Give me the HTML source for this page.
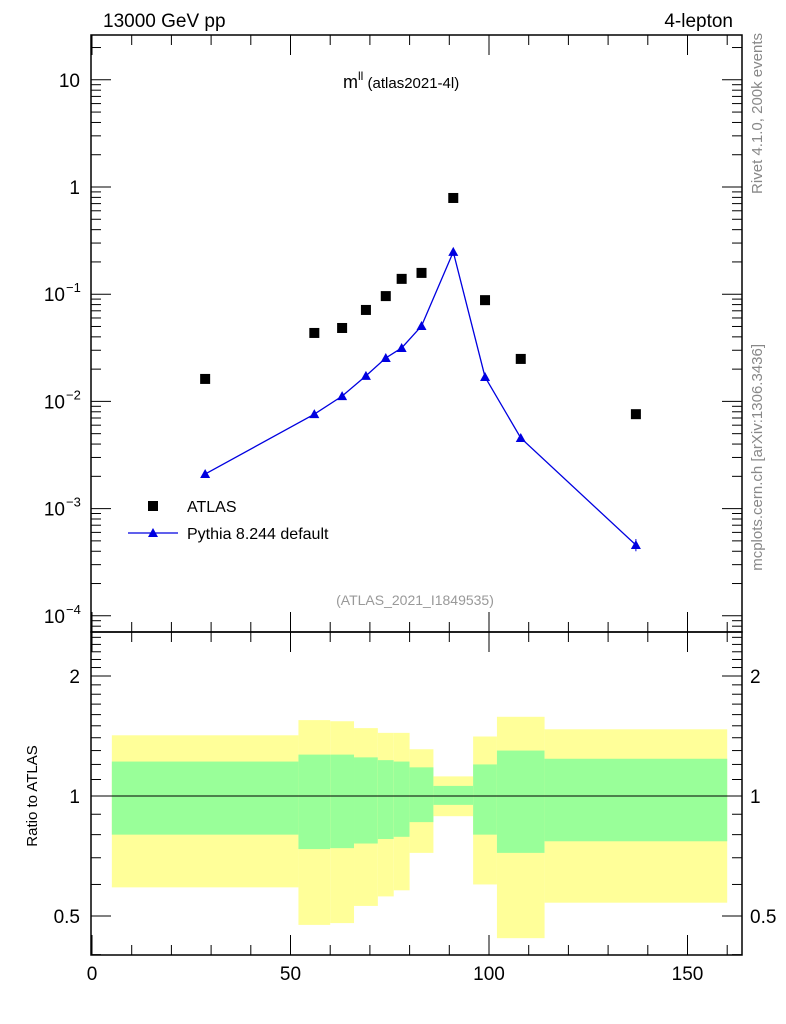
<!DOCTYPE html>
<html><head><meta charset="utf-8"><style>
body{margin:0;background:#fff;}
svg{display:block;font-family:"Liberation Sans",sans-serif;}
</style></head><body>
<svg id="c" width="786" height="1024" viewBox="0 0 786 1024"></svg>
<script>
const xs=[28.5,56,63,69,74,78,83,91,99,108,137];
const atlas=[0.0162,0.0435,0.0484,0.0713,0.096,0.139,0.158,0.79,0.088,0.0249,0.0076];
const pythia=[0.0021,0.0076,0.0112,0.0173,0.0254,0.0315,0.0505,0.248,0.0169,0.00456,0.000457];
const edges=[5,52,60,66,72,76,80,86,96,102,114,160];
const yelHi=[1.42,1.55,1.54,1.48,1.44,1.44,1.31,1.12,1.41,1.58,1.47];
const yelLo=[0.59,0.475,0.48,0.53,0.56,0.58,0.72,0.89,0.60,0.44,0.54];
const grnHi=[1.22,1.27,1.27,1.25,1.23,1.22,1.18,1.06,1.20,1.30,1.24];
const grnLo=[0.80,0.736,0.74,0.76,0.78,0.79,0.86,0.95,0.80,0.72,0.77];
const xTicks=[0,50,100,150];

const L=91,R=742,T=35,M=632,B=955;
const X=v=>92+v*3.97;
const Y=v=>187-Math.log10(v)*107.2;
const RY=v=>796-Math.log10(v)*398.7;
const s=document.getElementById('c');
const NS='http://www.w3.org/2000/svg';
function mk(t,a,p){const e=document.createElementNS(NS,t);for(const k in a)e.setAttribute(k,a[k]);(p||s).appendChild(e);return e;}
function txt(x,y,str,size,anchor,fill){const e=mk('text',{x:x,y:y,'font-size':size,'text-anchor':anchor||'start',fill:fill||'#000'});e.textContent=str;return e;}

for(let i=0;i<yelHi.length;i++){
 const r=mk('rect',{x:X(edges[i]),y:RY(yelHi[i]),width:X(edges[i+1])-X(edges[i]),height:RY(yelLo[i])-RY(yelHi[i]),fill:'#ffff99'});
 
 const g=mk('rect',{x:X(edges[i]),y:RY(grnHi[i]),width:X(edges[i+1])-X(edges[i]),height:RY(grnLo[i])-RY(grnHi[i]),fill:'#99ff99'});
 
}
mk('line',{x1:L,x2:R,y1:RY(1),y2:RY(1),stroke:'#000','stroke-width':1});

const f1=mk('rect',{x:L,y:T,width:R-L,height:M-T,fill:'none',stroke:'#000','stroke-width':1.5});

const f2=mk('rect',{x:L,y:M,width:R-L,height:B-M,fill:'none',stroke:'#000','stroke-width':1.5});


for(let d=-5;d<=1;d++){
 for(let m=1;m<10;m++){
  const v=m*Math.pow(10,d);const y=Y(v);
  if(y<T||y>M)continue;
  const len=m==1?20:10;
  mk('line',{x1:L,x2:L+len,y1:y,y2:y,stroke:'#000'});
  mk('line',{x1:R,x2:R-len,y1:y,y2:y,stroke:'#000'});
 }
}
const yl=[[10,'10'],[1,'1'],[0.1,'10','-1'],[0.01,'10','-2'],[0.001,'10','-3'],[0.0001,'10','-4']];
yl.forEach(a=>{
 const y=Y(a[0])+7;
 if(a[2]){const t=txt(65,y,a[1],19,'end');
  const sup=mk('text',{x:66,y:y-9,'font-size':13});sup.textContent=a[2].replace('-','\u2212');}
 else{const t=txt(80,y,a[1],19,'end');}
});
for(let v=0.4;v<=2.6;v+=0.1){const y=RY(v);if(y<M||y>B)continue;
 const big=Math.abs(v-0.5)<1e-6||Math.abs(v-1)<1e-6||Math.abs(v-2)<1e-6;const len=big?20:10;
 mk('line',{x1:L,x2:L+len,y1:y,y2:y,stroke:'#000'});mk('line',{x1:R,x2:R-len,y1:y,y2:y,stroke:'#000'});}
[[2,'2'],[1,'1'],[0.5,'0.5']].forEach(a=>{
 const t=txt(80,RY(a[0])+7,a[1],19,'end');
 const t2=txt(750,RY(a[0])+7,a[1],19,'start');
});
for(let v=0;v<=160;v+=10){const x=X(v);const len=v%50==0?20:10;
 [[T,1],[M,-1],[M,1],[B,-1]].forEach(p=>mk('line',{x1:x,x2:x,y1:p[0],y2:p[0]+p[1]*len,stroke:'#000'}));}
xTicks.forEach(v=>{const t=txt(X(v),980,String(v),19,'middle');});

let d='';xs.forEach((x,i)=>{d+=(i?'L':'M')+X(x)+','+Y(pythia[i]);});
const pl=mk('path',{d:d,fill:'none',stroke:'#0000e0','stroke-width':1.3});

xs.forEach((x,i)=>{const cx=X(x),cy=Y(pythia[i]);
 const p=mk('polygon',{points:`${cx-5},${cy+4} ${cx+5},${cy+4} ${cx},${cy-5}`,fill:'#0000e0'});
 });
mk('line',{x1:X(137),x2:X(137),y1:Y(0.00052),y2:Y(0.0004),stroke:'#0000e0'});
xs.forEach((x,i)=>{const r=mk('rect',{x:X(x)-5,y:Y(atlas[i])-5,width:10,height:10,fill:'#000'});
 });

const lr=mk('rect',{x:148,y:501,width:10,height:10,fill:'#000'});
const la=txt(187,512,'ATLAS',16);
mk('line',{x1:128,x2:178,y1:533,y2:533,stroke:'#0000e0','stroke-width':1.3});
mk('polygon',{points:'148,537 158,537 153,528',fill:'#0000e0'});
const lp=txt(187,539,'Pythia 8.244 default',16);

let t=txt(103,27,'13000 GeV pp',19);
t=txt(733,27,'4-lepton',19,'end');
t=mk('text',{x:343,y:88,'font-size':18});t.innerHTML='m<tspan font-size="12" dy="-8">ll</tspan><tspan font-size="15" dy="8"> (atlas2021-4l)</tspan>';

t=txt(415,605,'(ATLAS_2021_I1849535)',14,'middle','#999');
t=mk('text',{x:0,y:0,'font-size':15,fill:'#000','text-anchor':'middle',transform:'translate(37,796) rotate(-90)'});t.textContent='Ratio to ATLAS';

t=mk('text',{x:0,y:0,'font-size':15,fill:'#888','text-anchor':'end',transform:'translate(762,33) rotate(-90)'});t.textContent='Rivet 4.1.0,  200k events';

t=mk('text',{x:0,y:0,'font-size':15,fill:'#888','text-anchor':'end',transform:'translate(762,344) rotate(-90)'});t.textContent='mcplots.cern.ch [arXiv:1306.3436]';

</script>
</body></html>
